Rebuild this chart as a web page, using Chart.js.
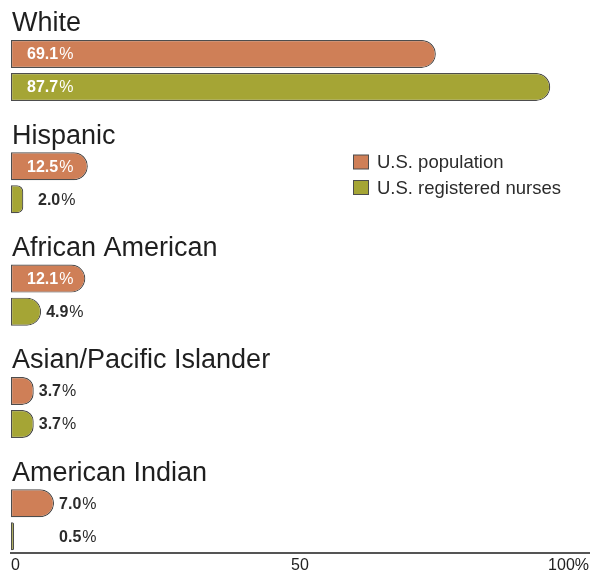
<!DOCTYPE html>
<html>
<head>
<meta charset="utf-8">
<script src="https://cdn.jsdelivr.net/npm/chart.js@4"></script>
<style>
body { margin: 0; background: #fff; }
canvas { display: block; }
</style>
</head>
<body>
<canvas id="chart" width="595" height="578"></canvas>
<script>
let groups = ['White', 'Hispanic', 'African American', 'Asian/Pacific Islander', 'American Indian']
let population = [69.1, 12.5, 12.1, 3.7, 7.0]
let nurses = [87.7, 2.0, 4.9, 3.7, 0.5]
let seriesNames = ['U.S. population', 'U.S. registered nurses']
let seriesColors = ['#cf7f57', '#a5a535']
let axisTicks = [0, 50, 100]

let font = '"Liberation Sans", Arial, sans-serif'

function toPoints(values) {
	return values.map((v, i) => ({ x: v, y: i }))
}

function drawValue(ctx, num, x, y, color) {
	ctx.fillStyle = color
	ctx.textBaseline = 'middle'
	ctx.textAlign = 'left'
	ctx.font = 'bold 16px ' + font
	ctx.fillText(num, x, y)
	let w = ctx.measureText(num).width
	ctx.font = '16px ' + font
	ctx.fillText('%', x + w + 1, y)
}

let labelsPlugin = {
	id: 'groupLabels',
	afterDatasetsDraw(chart) {
		let ctx = chart.ctx
		let xs = chart.scales.x
		let ys = chart.scales.y
		ctx.save()

		// group titles above each pair of bars
		ctx.fillStyle = '#1f1f1f'
		ctx.font = '27px ' + font
		ctx.textBaseline = 'alphabetic'
		ctx.textAlign = 'left'
		for (let i = 0; i < groups.length; i++) {
			ctx.fillText(groups[i], 12, ys.getPixelForValue(i) - 39)
		}

		// value labels, inside long bars, after short ones
		for (let i = 0; i < groups.length; i++) {
			let outsideEnd = 0
			chart.data.datasets.forEach(ds => {
				if (ds.data[i].x < 10) outsideEnd = Math.max(outsideEnd, xs.getPixelForValue(ds.data[i].x))
			})
			chart.data.datasets.forEach((ds, d) => {
				let bar = chart.getDatasetMeta(d).data[i]
				let v = ds.data[i].x
				let inside = v >= 10
				let x = inside ? 27 : Math.max(outsideEnd + 5, 38)
				drawValue(ctx, v.toFixed(1), x, bar.y + 1, inside ? '#ffffff' : '#2b2b2b')
			})
		}

		// legend
		chart.data.datasets.forEach((ds, d) => {
			let top = 155 + d * 25.5
			ctx.fillStyle = ds.backgroundColor
			ctx.fillRect(353.5, top, 15, 14)
			ctx.strokeStyle = '#4d4d4d'
			ctx.lineWidth = 1
			ctx.strokeRect(353.5, top, 15, 14)
			ctx.fillStyle = '#2b2b2b'
			ctx.font = '18.5px ' + font
			ctx.textBaseline = 'alphabetic'
			ctx.fillText(ds.label, 377, top + 13)
		})
		ctx.restore()
	},
}

let barStyle = {
	borderColor: '#4d4d4d',
	borderWidth: 1.2,
	borderSkipped: false,
	borderRadius: { topLeft: 0, bottomLeft: 0, topRight: 14, bottomRight: 14 },
	barPercentage: 0.848,
	categoryPercentage: 0.588,
	xAxisID: 'x',
	yAxisID: 'y',
}

let chart = new Chart(document.getElementById('chart'), {
	type: 'bar',
	data: {
		datasets: [
			Object.assign({ label: seriesNames[0], data: toPoints(population), backgroundColor: seriesColors[0] }, barStyle),
			Object.assign({ label: seriesNames[1], data: toPoints(nurses), backgroundColor: seriesColors[1] }, barStyle),
		],
	},
	options: {
		indexAxis: 'y',
		responsive: false,
		animation: false,
		devicePixelRatio: 1,
		layout: { padding: { left: 11, right: 0, top: 0, bottom: 0 } },
		plugins: {
			legend: { display: false },
			tooltip: { enabled: false },
		},
		scales: {
			y: {
				type: 'linear',
				reverse: true,
				offset: false,
				grace: 0,
				min: -0.6272,
				max: 4.2975,
				display: false,
				afterBuildTicks: s => {
					s.ticks = groups.map((g, i) => ({ value: i }))
				},
			},
			x: {
				type: 'linear',
				min: 0,
				max: 94,
				display: false,
			},
			x2: {
				type: 'linear',
				position: 'bottom',
				min: 0,
				max: 100,
				afterBuildTicks: s => {
					s.ticks = axisTicks.map(v => ({ value: v }))
				},
				grid: { display: false, drawTicks: false },
				border: { display: true, color: '#555555', width: 2 },
				ticks: {
					align: 'inner',
					color: '#222222',
					padding: 6,
					font: { family: font, size: 16, lineHeight: 0.8 },
					callback: v => (v === 100 ? '100%' : String(v)),
				},
			},
		},
	},
	plugins: [labelsPlugin],
})
</script>
</body>
</html>
